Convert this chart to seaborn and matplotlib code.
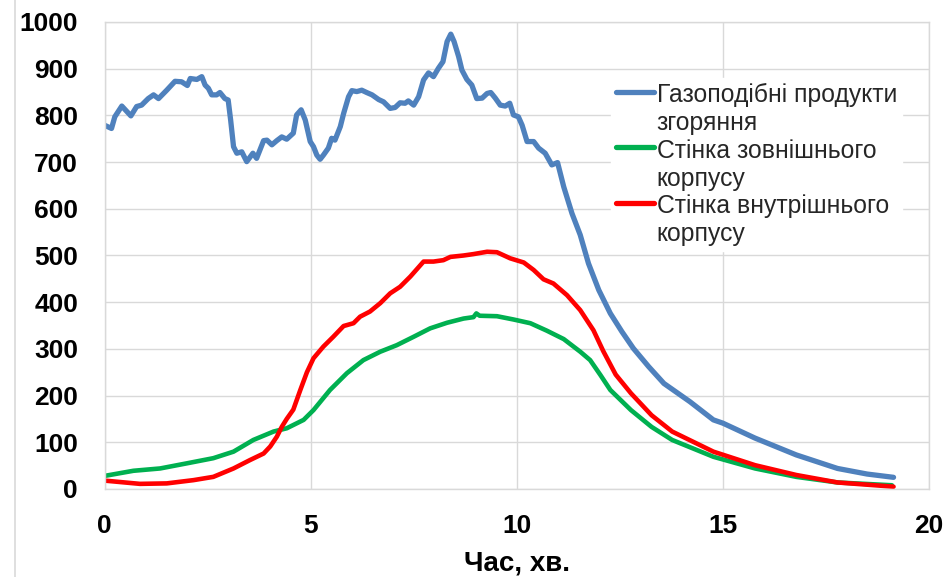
import matplotlib
matplotlib.use("Agg")
import matplotlib.pyplot as plt
from matplotlib.lines import Line2D
import seaborn as sns
import pandas as pd

# ---- data ----
t_gas = [0, 0.17, 0.25, 0.42, 0.64, 0.78, 0.9, 1.06, 1.19, 1.31, 1.51, 1.71, 1.87, 2.01, 2.08,
         2.24, 2.36, 2.44, 2.52, 2.6, 2.72, 2.8, 2.92, 3.0, 3.06, 3.13, 3.21, 3.33, 3.45, 3.6,
         3.69, 3.86, 3.94, 4.06, 4.18, 4.3, 4.42, 4.58, 4.66, 4.77, 4.87, 4.99, 5.07, 5.15, 5.23,
         5.31, 5.43, 5.51, 5.59, 5.72, 5.8, 5.92, 6.0, 6.12, 6.24, 6.36, 6.49, 6.65, 6.77, 6.93,
         7.05, 7.17, 7.29, 7.37, 7.5, 7.62, 7.74, 7.86, 7.98, 8.1, 8.21, 8.31, 8.4, 8.48, 8.59,
         8.67, 8.79, 8.91, 9.03, 9.16, 9.28, 9.37, 9.48, 9.6, 9.72, 9.83, 9.92, 10.04, 10.13,
         10.25, 10.41, 10.53, 10.69, 10.85, 10.99, 11.14, 11.34, 11.54, 11.74, 11.99, 12.27,
         12.55, 12.83, 13.2, 13.57, 14.2, 14.77, 15.0, 15.78, 16.78, 17.78, 18.5, 19.14]
v_gas = [779, 772, 797, 820, 799, 819, 822, 836, 844, 836, 854, 873, 872, 864, 879,
         877, 883, 865, 858, 844, 844, 849, 836, 833, 790, 733, 719, 722, 701, 719,
         708, 746, 747, 737, 746, 754, 749, 762, 801, 812, 790, 744, 733, 715, 706,
         715, 730, 751, 747, 776, 804, 840, 853, 851, 854, 849, 844, 834, 829, 815,
         817, 827, 826, 831, 822, 840, 876, 891, 883, 901, 915, 958, 974, 958, 926,
         897, 877, 865, 836, 837, 847, 849, 837, 822, 820, 826, 801, 797, 779,
         744, 744, 730, 719, 694, 699, 647, 590, 544, 483, 426, 376,
         337, 301, 262, 226, 187, 148, 141, 109, 73, 44, 32, 25]

t_outer = [0, 0.7, 1.35, 2.0, 2.64, 3.13, 3.61, 4.1, 4.42, 4.83, 5.07, 5.47, 5.88, 6.28, 6.69,
           7.09, 7.5, 7.9, 8.31, 8.71, 8.95, 9.02, 9.1, 9.52, 9.92, 10.33, 10.73, 11.14, 11.54,
           11.78, 12.03, 12.27, 12.77, 13.27, 13.77, 14.77, 15.78, 16.78, 17.78, 19.1]
v_outer = [28, 39, 44, 55, 66, 80, 105, 123, 130, 148, 169, 212, 248, 276, 294,
           308, 326, 344, 356, 365, 368, 376, 371, 370, 363, 355, 339, 321, 294,
           276, 244, 212, 169, 133, 105, 69, 44, 26, 14, 8]

t_inner = [0, 0.86, 1.51, 2.16, 2.64, 3.13, 3.53, 3.86, 4.02, 4.18, 4.3, 4.42, 4.58, 4.75, 4.91,
           5.07, 5.31, 5.55, 5.8, 6.04, 6.2, 6.44, 6.69, 6.93, 7.17, 7.42, 7.74, 7.98, 8.22,
           8.39, 8.71, 8.95, 9.28, 9.52, 9.84, 10.17, 10.41, 10.65, 10.89, 11.22, 11.54, 11.86,
           12.1, 12.4, 12.77, 13.27, 13.77, 14.77, 15.78, 16.78, 17.78, 19.14]
v_inner = [18, 11, 12, 19, 26, 44, 62, 76, 91, 112, 133, 150, 170, 212, 250,
           280, 305, 326, 349, 355, 369, 380, 398, 419, 433, 455, 487, 487, 490,
           497, 500, 503, 508, 507, 494, 485, 469, 449, 440, 415, 383, 340,
           295, 245, 205, 158, 123, 80, 51, 30, 14, 5]

labels = ["Газоподібні продукти\nзгоряння", "Стінка зовнішнього\nкорпусу", "Стінка внутрішнього\nкорпусу"]
colors = ["#4F81BD", "#00B050", "#FF0000"]
x_ticks = [0, 5, 10, 15, 20]
y_ticks = [0, 100, 200, 300, 400, 500, 600, 700, 800, 900, 1000]
x_label = "Час, хв."

# ---- styling ----
sns.set_theme(style="white")
plt.rcParams["font.family"] = ["Liberation Sans", "DejaVu Sans"]

fig = plt.figure(figsize=(9.51, 5.77), dpi=100)
ax = fig.add_axes([104.5 / 951, 88 / 577, (929 - 104.5) / 951, (489 - 22) / 577])

series = [(t_gas, v_gas, labels[0], colors[0], 3.8),
          (t_outer, v_outer, labels[1], colors[1], 3.3),
          (t_inner, v_inner, labels[2], colors[2], 3.3)]
for tt, vv, lab, col, lw in series:
    df = pd.DataFrame({"t": tt, "v": vv})
    sns.lineplot(data=df, x="t", y="v", ax=ax, color=col, linewidth=lw, label=lab,
                 estimator=None, sort=False, solid_capstyle="round", solid_joinstyle="round")

ax.set_xlim(0, 20)
ax.set_ylim(0, 1000)
ax.set_xticks(x_ticks)
ax.set_yticks(y_ticks)
ax.set_xticklabels([str(v) for v in x_ticks], fontsize=19, fontweight="bold")
ax.set_yticklabels([str(v) for v in y_ticks], fontsize=19, fontweight="bold")
ax.tick_params(axis="both", length=0, colors="black")
ax.tick_params(axis="y", pad=19)
ax.tick_params(axis="x", pad=18)
ax.set_xlabel(x_label, fontsize=20, fontweight="bold", color="black", labelpad=9)
ax.set_ylabel("")
ax.grid(True, color="#d9d9d9", linewidth=1)
ax.set_axisbelow(True)
for s in ax.spines.values():
    s.set_color("#d9d9d9")
    s.set_linewidth(1)

leg = ax.legend(loc="upper left", bbox_to_anchor=((611 - 104.5) / 824.5, (489 - 78) / 467),
                frameon=True, fontsize=17.8, handlelength=1.55, handletextpad=0.1,
                labelspacing=0.16, borderpad=0.2, borderaxespad=0, fancybox=False)
leg.get_frame().set_facecolor("white")
leg.get_frame().set_edgecolor("white")
leg.get_frame().set_alpha(1)
for txt in leg.get_texts():
    txt.set_linespacing(1.2)
for h in leg.get_lines():
    h.set_linewidth(3.8)
# align handles with the first text line
for col in leg._legend_handle_box.get_children():
    for item in col.get_children():
        item.align = "top"

fig.add_artist(Line2D([15 / 951, 15 / 951], [0, 1], color="#d9d9d9", linewidth=1.2,
                      transform=fig.transFigure))

fig.savefig("out.png", dpi=100)
